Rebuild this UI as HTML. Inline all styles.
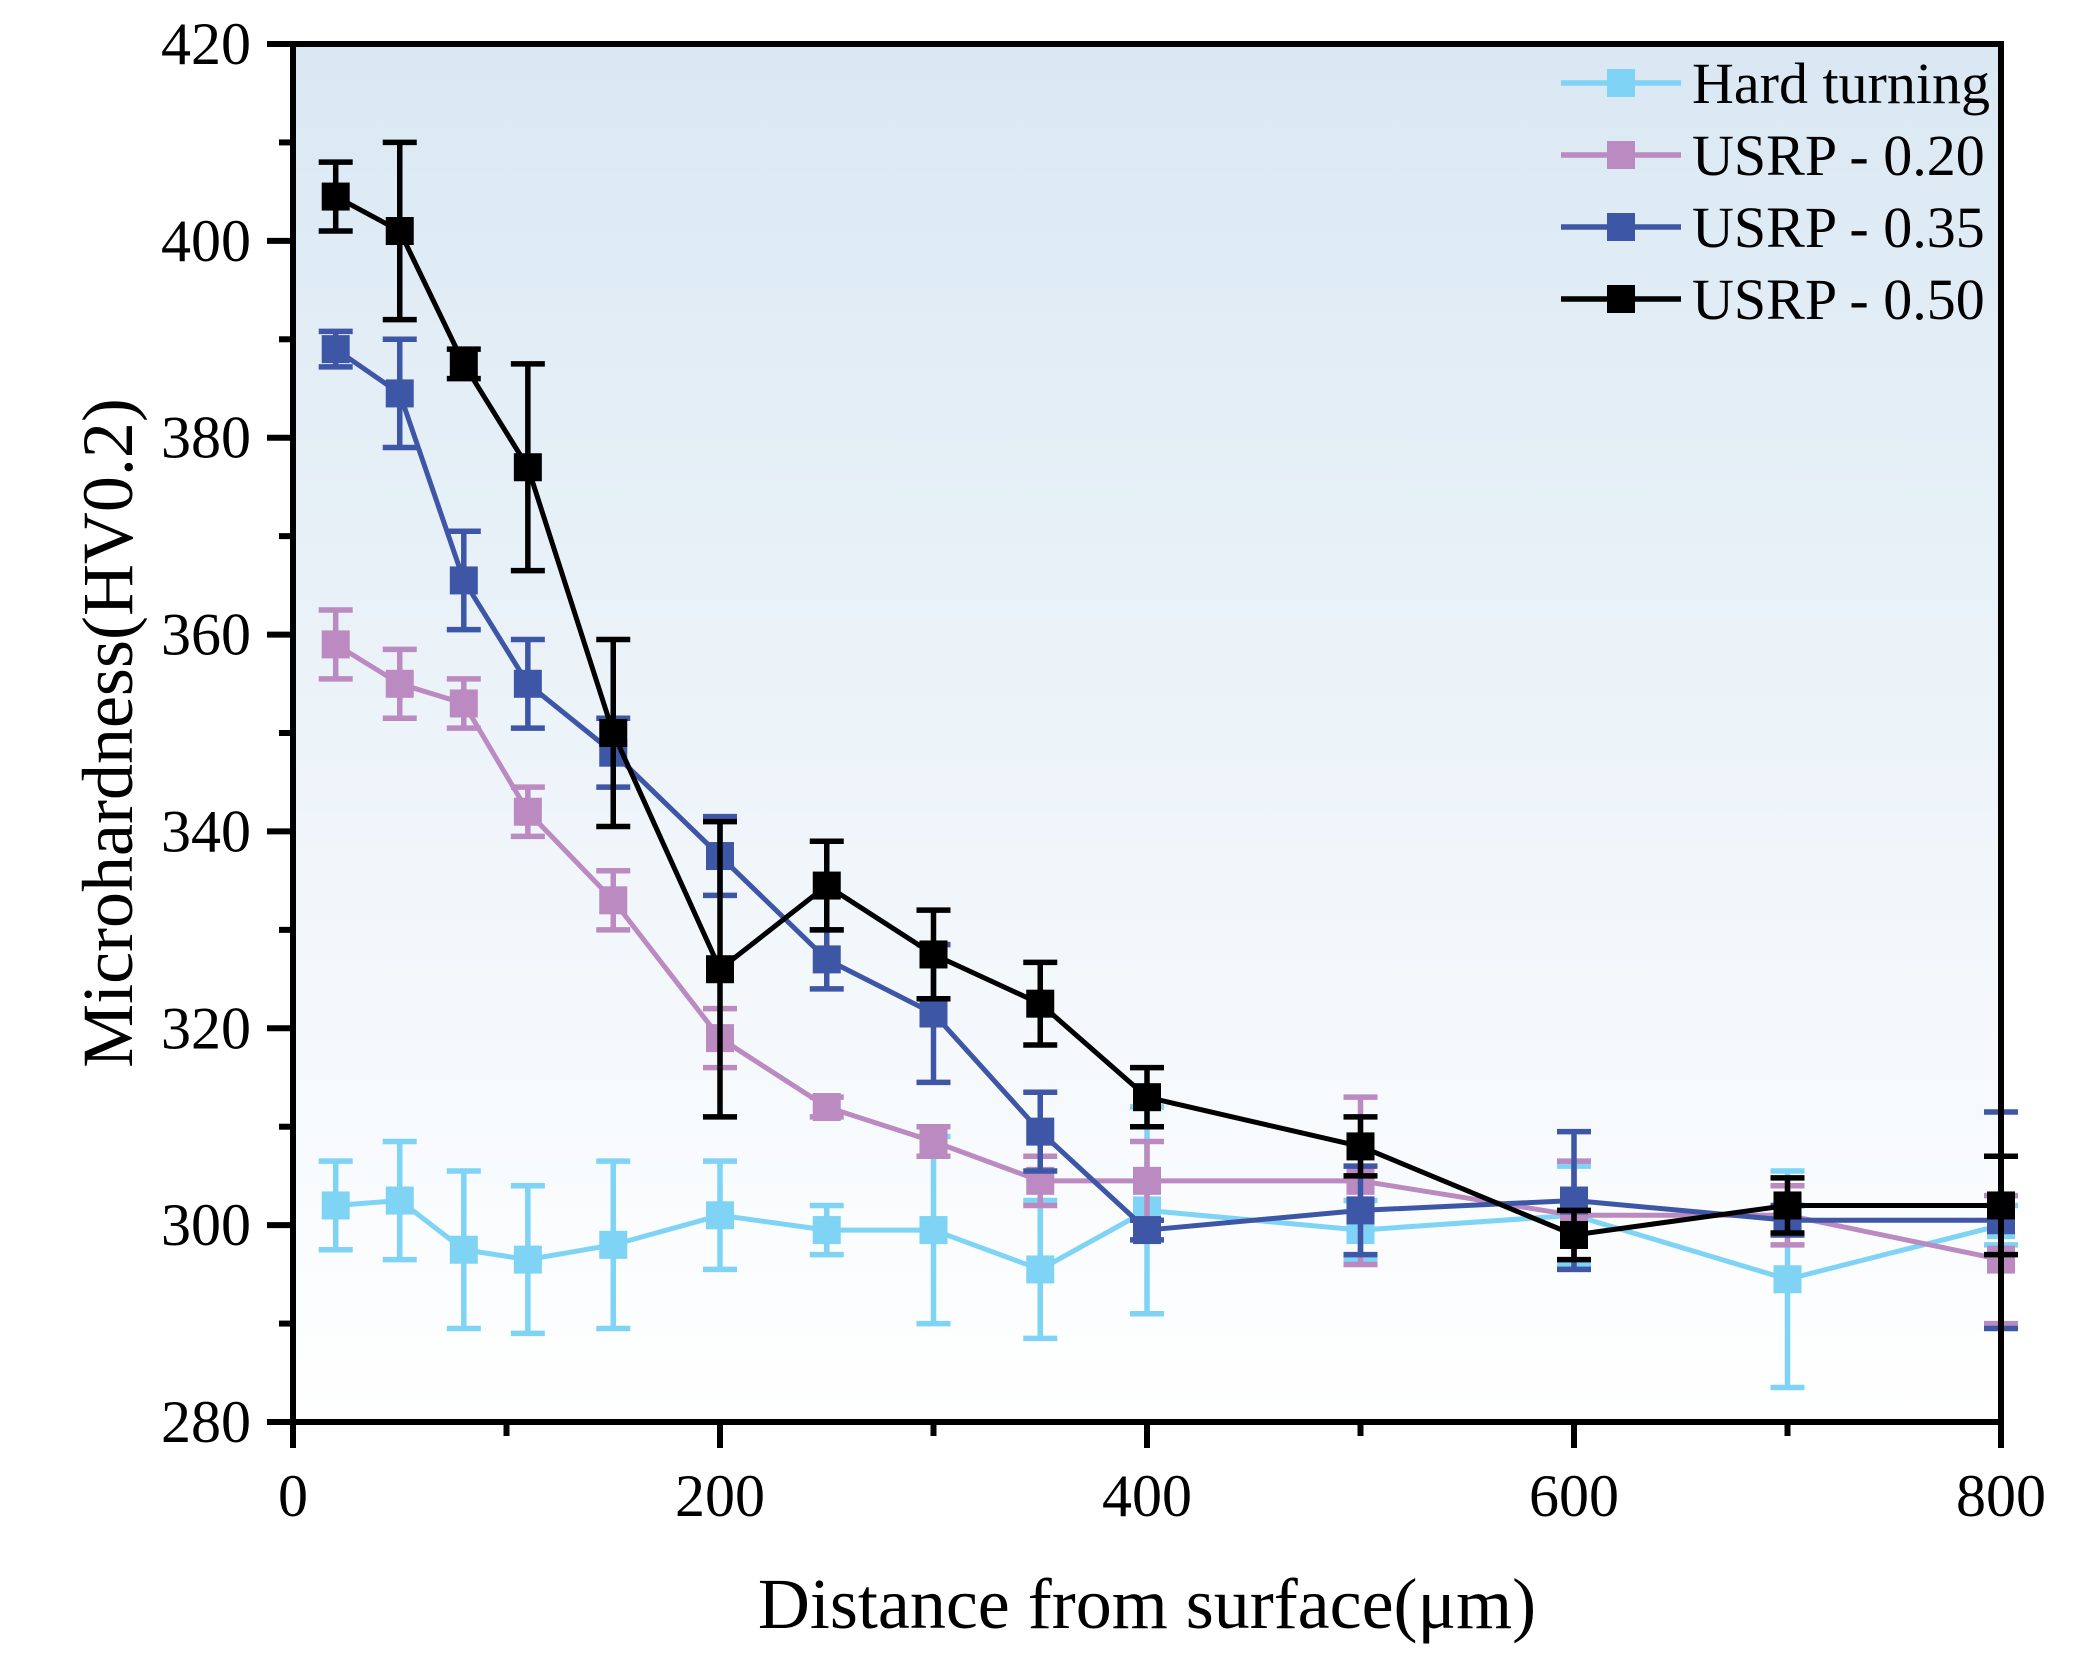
<!DOCTYPE html>
<html><head><meta charset="utf-8"><style>
body{margin:0;background:#fff}
svg{display:block;font-family:"Liberation Serif",serif}
</style></head><body>
<svg id="chart" width="2088" height="1671" viewBox="0 0 2088 1671" xmlns="http://www.w3.org/2000/svg">
<defs><linearGradient id="bg" x1="0" y1="0" x2="0" y2="1"><stop offset="0" stop-color="#dae8f3"/><stop offset="1" stop-color="#ffffff"/></linearGradient></defs>
<rect x="293" y="44" width="1708" height="1378" fill="url(#bg)"/>
<g id="marks"></g>
<g id="axes"></g>
<text transform="translate(132,733) rotate(-90)" text-anchor="middle" font-size="72">Microhardness(HV0.2)</text>
<text x="1147" y="1628" text-anchor="middle" font-size="72">Distance from surface(μm)</text>
<g id="legend"></g>
</svg>
<script>
const xValues=[20,50,80,110,150,200,250,300,350,400,500,600,700,800];
const seriesNames=["Hard turning","USRP - 0.20","USRP - 0.35","USRP - 0.50"];
const seriesColors=["#7fd3f5","#bb8ac0","#3e56a6","#000000"];
const hardTurning=[302,302.5,297.5,296.5,298,301,299.5,299.5,295.5,301.5,299.5,301,294.5,300];
const hardTurningErr=[4.5,6,8,7.5,8.5,5.5,2.5,9.5,7,10.5,3,5,11,2];
const usrp020=[359,355,353,342,333,319,312,308.5,304.5,304.5,304.5,301,301,296.5];
const usrp020Err=[3.5,3.5,2.5,2.5,3,3,1,1.5,2.5,4,8.5,5.5,3,6.5];
const usrp035=[389,384.5,365.5,355,348,337.5,327,321.5,309.5,299.5,301.5,302.5,300.5,300.5];
const usrp035Err=[1.8,5.5,5,4.5,3.5,4,3,7,4,1,4.5,7,1.5,11];
const usrp050=[404.5,401,387.5,377,350,326,334.5,327.5,322.5,313,308,299,302,302];
const usrp050Err=[3.5,9,1.5,10.5,9.5,15,4.5,4.5,4.2,3,3,2.5,2.8,5];
const xTicks=[0,200,400,600,800];
const yTicks=[280,300,320,340,360,380,400,420];
const L=293,R=2001,T=44,B=1422;
const sx=v=>L+(v-0)/(800-0)*(R-L);
const sy=v=>B-(v-280)/(420-280)*(B-T);
const NS="http://www.w3.org/2000/svg";
function mk(tag,attrs,parent){const e=document.createElementNS(NS,tag);for(const k in attrs)e.setAttribute(k,attrs[k]);parent.appendChild(e);return e;}
const marks=document.getElementById('marks');
const all=[[hardTurning,hardTurningErr],[usrp020,usrp020Err],[usrp035,usrp035Err],[usrp050,usrp050Err]];
all.forEach((s,si)=>{
  const c=seriesColors[si];
  const g=mk('g',{},marks);
  
  
  const pl=mk('polyline',{points:xValues.map((x,i)=>sx(x)+','+sy(s[0][i])).join(' '),fill:'none',stroke:c,'stroke-width':5},g);
  
  
  xValues.forEach((x,i)=>{
    const px=sx(x),y=s[0][i],e=s[1][i];
    const eb=mk('path',{d:`M${px},${sy(y-e)}V${sy(y+e)}M${px-17},${sy(y-e)}h34M${px-17},${sy(y+e)}h34`,stroke:c,'stroke-width':5.5,fill:'none'},g);
    
    
    const m=mk('rect',{x:px-14,y:sy(y)-14,width:28,height:28,fill:c},g);
    
    
  });
});
const ax=document.getElementById('axes');
const frame=mk('path',{d:`M${L},${T}H${R}V${B}H${L}Z`,fill:'none',stroke:'#000','stroke-width':6},ax);


for(let v=0;v<=800;v+=100){
  const t=mk('line',{x1:sx(v),x2:sx(v),y1:B,y2:B+(v%200===0?26:14),stroke:'#000','stroke-width':6},ax);
  
  
}
for(let v=280;v<=420;v+=10){
  const t=mk('line',{x1:L,x2:L-(v%20===0?26:14),y1:sy(v),y2:sy(v),stroke:'#000','stroke-width':6},ax);
  
  
}
xTicks.forEach(v=>{const t=mk('text',{x:sx(v),y:B+94,'text-anchor':'middle','font-size':60},ax);t.textContent=v;
  
  });
yTicks.forEach(v=>{const t=mk('text',{x:L-42,y:sy(v)+20,'text-anchor':'end','font-size':60},ax);t.textContent=v;
  
  });
const lg=document.getElementById('legend');
seriesNames.forEach((n,i)=>{
  const y=83+i*72;
  const g=mk('g',{},lg);
  
  
  mk('line',{x1:1561,x2:1681,y1:y,y2:y,stroke:seriesColors[i],'stroke-width':5.5},g);
  mk('rect',{x:1607,y:y-14,width:28,height:28,fill:seriesColors[i]},g);
  const t=mk('text',{x:1692,y:y+20,'font-size':58},g);t.textContent=n;
});
</script>
</body></html>
